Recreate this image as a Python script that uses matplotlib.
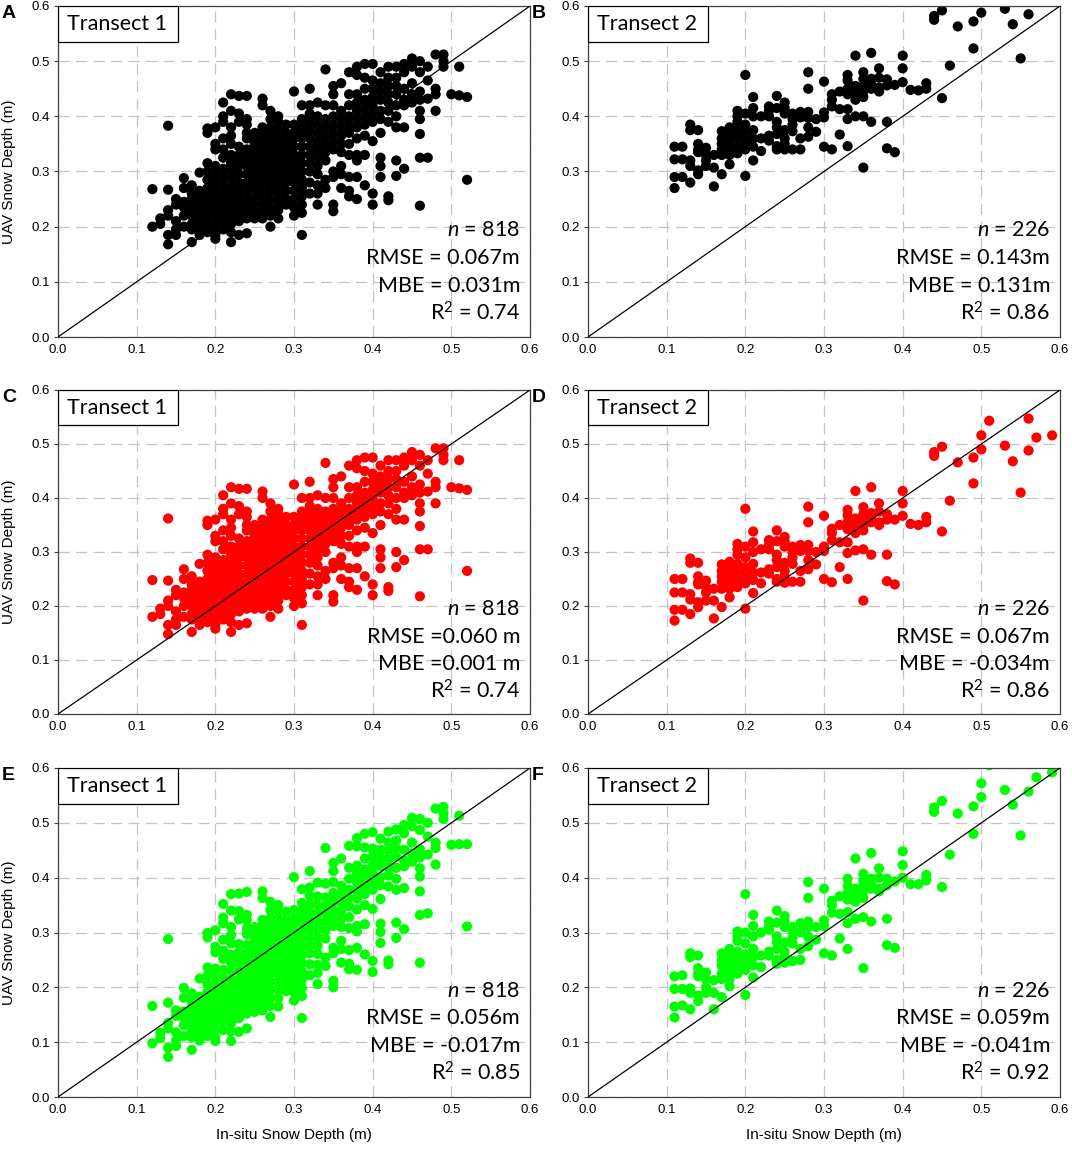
import matplotlib.pyplot as plt
from matplotlib.patches import Rectangle

plt.rcParams['font.family'] = ['Liberation Sans', 'DejaVu Sans']
plt.rcParams['mathtext.fontset'] = 'custom'
plt.rcParams['mathtext.rm'] = 'Lato'
plt.rcParams['mathtext.it'] = 'Lato:italic'

# ---- transect 1: in-situ depth columns and UAV depths (A = black, C = red, E = green)
t1_cols = [0.12, 0.13, 0.14, 0.15, 0.16, 0.17, 0.18, 0.19, 0.20, 0.21, 0.22, 0.23,
           0.24, 0.25, 0.26, 0.27, 0.28, 0.29, 0.30, 0.31, 0.32, 0.33, 0.34, 0.35,
           0.36, 0.37, 0.38, 0.39, 0.40, 0.41, 0.42, 0.43, 0.44, 0.45, 0.46, 0.47,
           0.48, 0.49, 0.50, 0.51, 0.52]

t1_a = [
    [0.268, 0.200],
    [0.215, 0.205],
    [0.383, 0.267, 0.230, 0.220, 0.185, 0.168],
    [0.250, 0.240, 0.210, 0.195, 0.185],
    [0.288, 0.270, 0.245, 0.235, 0.220, 0.200],
    [0.275, 0.260, 0.250, 0.240, 0.230, 0.220, 0.205, 0.195, 0.172],
    [0.298, 0.265, 0.255, 0.245, 0.235, 0.225, 0.215, 0.205, 0.195, 0.185],
    [0.378, 0.370, 0.315, 0.300, 0.285, 0.270, 0.260, 0.250, 0.240, 0.230, 0.220, 0.210, 0.200, 0.190],
    [0.380, 0.350, 0.340, 0.310, 0.295, 0.280, 0.265, 0.255, 0.245, 0.235, 0.225, 0.215, 0.200, 0.185, 0.178],
    [0.425, 0.400, 0.390, 0.360, 0.340, 0.325, 0.305, 0.290, 0.275, 0.260, 0.250, 0.240, 0.230, 0.220, 0.210, 0.195],
    [0.440, 0.410, 0.380, 0.365, 0.350, 0.330, 0.315, 0.300, 0.285, 0.270, 0.260, 0.250, 0.240, 0.230, 0.220, 0.205, 0.190, 0.172],
    [0.437, 0.405, 0.390, 0.345, 0.330, 0.320, 0.310, 0.295, 0.280, 0.270, 0.260, 0.250, 0.240, 0.230, 0.220, 0.210, 0.185],
    [0.437, 0.395, 0.385, 0.370, 0.360, 0.340, 0.325, 0.310, 0.295, 0.280, 0.265, 0.250, 0.235, 0.225, 0.215, 0.188],
    [0.370, 0.360, 0.350, 0.340, 0.330, 0.320, 0.310, 0.300, 0.285, 0.270, 0.255, 0.240, 0.225, 0.215],
    [0.432, 0.420, 0.380, 0.370, 0.360, 0.350, 0.340, 0.330, 0.320, 0.310, 0.300, 0.290, 0.275, 0.260, 0.245, 0.230, 0.215],
    [0.410, 0.395, 0.380, 0.370, 0.360, 0.350, 0.340, 0.330, 0.320, 0.310, 0.300, 0.290, 0.280, 0.265, 0.250, 0.235, 0.220, 0.200],
    [0.400, 0.390, 0.375, 0.360, 0.345, 0.330, 0.320, 0.310, 0.300, 0.290, 0.275, 0.260, 0.245, 0.230, 0.215],
    [0.385, 0.370, 0.360, 0.350, 0.340, 0.325, 0.310, 0.300, 0.290, 0.280, 0.265, 0.250, 0.240],
    [0.445, 0.385, 0.370, 0.360, 0.345, 0.330, 0.320, 0.310, 0.295, 0.280, 0.265, 0.250, 0.235, 0.220],
    [0.420, 0.395, 0.380, 0.370, 0.360, 0.345, 0.330, 0.315, 0.300, 0.285, 0.270, 0.255, 0.240, 0.225, 0.185],
    [0.450, 0.420, 0.405, 0.390, 0.375, 0.360, 0.345, 0.330, 0.315, 0.300, 0.280, 0.260],
    [0.425, 0.400, 0.385, 0.370, 0.355, 0.340, 0.325, 0.310, 0.295, 0.275, 0.260, 0.240],
    [0.485, 0.420, 0.395, 0.380, 0.365, 0.350, 0.335, 0.320, 0.285, 0.270],
    [0.455, 0.440, 0.420, 0.400, 0.385, 0.370, 0.355, 0.340, 0.300, 0.290, 0.240, 0.228],
    [0.460, 0.410, 0.395, 0.380, 0.365, 0.350, 0.335, 0.310, 0.295, 0.270],
    [0.480, 0.440, 0.420, 0.400, 0.385, 0.370, 0.350, 0.330, 0.290, 0.265, 0.255],
    [0.490, 0.475, 0.440, 0.425, 0.410, 0.395, 0.380, 0.360, 0.330, 0.320, 0.290, 0.250],
    [0.495, 0.470, 0.450, 0.430, 0.415, 0.400, 0.385, 0.365, 0.330, 0.275],
    [0.495, 0.465, 0.450, 0.435, 0.420, 0.405, 0.390, 0.355, 0.260, 0.240],
    [0.480, 0.460, 0.445, 0.430, 0.410, 0.395, 0.370, 0.325, 0.310, 0.290],
    [0.490, 0.470, 0.455, 0.440, 0.425, 0.410, 0.390, 0.255, 0.248],
    [0.490, 0.470, 0.455, 0.440, 0.420, 0.400, 0.380, 0.320, 0.292],
    [0.495, 0.480, 0.450, 0.430, 0.420, 0.380, 0.305],
    [0.505, 0.490, 0.460, 0.440, 0.425],
    [0.500, 0.480, 0.445, 0.430, 0.410, 0.395, 0.368, 0.325, 0.238],
    [0.490, 0.465, 0.432, 0.325],
    [0.512, 0.450, 0.440, 0.410],
    [0.512, 0.500, 0.490],
    [0.440],
    [0.490, 0.438],
    [0.435, 0.285],
]

t1_c = [
    [0.248, 0.180],
    [0.195, 0.185],
    [0.362, 0.247, 0.210, 0.200, 0.165, 0.148],
    [0.230, 0.220, 0.190, 0.175, 0.165],
    [0.268, 0.250, 0.225, 0.215, 0.200, 0.180],
    [0.255, 0.240, 0.230, 0.220, 0.210, 0.200, 0.185, 0.175, 0.152],
    [0.278, 0.245, 0.235, 0.225, 0.215, 0.205, 0.195, 0.185, 0.175, 0.165],
    [0.358, 0.350, 0.295, 0.280, 0.265, 0.250, 0.240, 0.230, 0.220, 0.210, 0.200, 0.190, 0.180, 0.170],
    [0.360, 0.330, 0.320, 0.290, 0.275, 0.260, 0.245, 0.235, 0.225, 0.215, 0.205, 0.195, 0.180, 0.165, 0.158],
    [0.405, 0.380, 0.370, 0.340, 0.320, 0.305, 0.285, 0.270, 0.255, 0.240, 0.230, 0.220, 0.210, 0.200, 0.190, 0.175],
    [0.420, 0.390, 0.360, 0.345, 0.330, 0.310, 0.295, 0.280, 0.265, 0.250, 0.240, 0.230, 0.220, 0.210, 0.200, 0.185, 0.170, 0.152],
    [0.417, 0.385, 0.370, 0.325, 0.310, 0.300, 0.290, 0.275, 0.260, 0.250, 0.240, 0.230, 0.220, 0.210, 0.200, 0.190, 0.165],
    [0.417, 0.375, 0.365, 0.350, 0.340, 0.320, 0.305, 0.290, 0.275, 0.260, 0.245, 0.230, 0.215, 0.205, 0.195, 0.168],
    [0.350, 0.340, 0.330, 0.320, 0.310, 0.300, 0.290, 0.280, 0.265, 0.250, 0.235, 0.220, 0.205, 0.195],
    [0.412, 0.400, 0.360, 0.350, 0.340, 0.330, 0.320, 0.310, 0.300, 0.290, 0.280, 0.270, 0.255, 0.240, 0.225, 0.210, 0.195],
    [0.390, 0.375, 0.360, 0.350, 0.340, 0.330, 0.320, 0.310, 0.300, 0.290, 0.280, 0.270, 0.260, 0.245, 0.230, 0.215, 0.200, 0.180],
    [0.380, 0.370, 0.355, 0.340, 0.325, 0.310, 0.300, 0.290, 0.280, 0.270, 0.255, 0.240, 0.225, 0.210, 0.195],
    [0.365, 0.350, 0.340, 0.330, 0.320, 0.305, 0.290, 0.280, 0.270, 0.260, 0.245, 0.230, 0.220],
    [0.425, 0.365, 0.350, 0.340, 0.325, 0.310, 0.300, 0.290, 0.275, 0.260, 0.245, 0.230, 0.215, 0.200],
    [0.400, 0.375, 0.360, 0.350, 0.340, 0.325, 0.310, 0.295, 0.280, 0.265, 0.250, 0.235, 0.220, 0.205, 0.165],
    [0.430, 0.400, 0.385, 0.370, 0.355, 0.340, 0.325, 0.310, 0.295, 0.280, 0.260, 0.240],
    [0.405, 0.380, 0.365, 0.350, 0.335, 0.320, 0.305, 0.290, 0.275, 0.255, 0.240, 0.220],
    [0.465, 0.400, 0.375, 0.360, 0.345, 0.330, 0.315, 0.300, 0.265, 0.250],
    [0.435, 0.420, 0.400, 0.380, 0.365, 0.350, 0.335, 0.320, 0.280, 0.270, 0.220, 0.208],
    [0.440, 0.390, 0.375, 0.360, 0.345, 0.330, 0.315, 0.290, 0.275, 0.250],
    [0.460, 0.420, 0.400, 0.380, 0.365, 0.350, 0.330, 0.310, 0.270, 0.245, 0.235],
    [0.470, 0.455, 0.420, 0.405, 0.390, 0.375, 0.360, 0.340, 0.310, 0.300, 0.270, 0.230],
    [0.475, 0.450, 0.430, 0.410, 0.395, 0.380, 0.365, 0.345, 0.310, 0.255],
    [0.475, 0.445, 0.430, 0.415, 0.400, 0.385, 0.370, 0.335, 0.240, 0.220],
    [0.460, 0.440, 0.425, 0.410, 0.390, 0.375, 0.350, 0.305, 0.290, 0.270],
    [0.470, 0.450, 0.435, 0.420, 0.405, 0.390, 0.370, 0.235, 0.228],
    [0.470, 0.450, 0.435, 0.420, 0.400, 0.380, 0.360, 0.300, 0.272],
    [0.475, 0.460, 0.430, 0.410, 0.400, 0.360, 0.285],
    [0.485, 0.470, 0.440, 0.420, 0.405],
    [0.480, 0.460, 0.425, 0.410, 0.390, 0.375, 0.348, 0.305, 0.218],
    [0.470, 0.445, 0.412, 0.305],
    [0.492, 0.430, 0.420, 0.390],
    [0.492, 0.480, 0.470],
    [0.420],
    [0.470, 0.418],
    [0.415, 0.265],
]

t1_e = [
    [0.166, 0.098],
    [0.117, 0.107],
    [0.288, 0.172, 0.135, 0.125, 0.090, 0.073],
    [0.158, 0.148, 0.118, 0.103, 0.093],
    [0.199, 0.181, 0.156, 0.146, 0.131, 0.111],
    [0.189, 0.174, 0.164, 0.154, 0.144, 0.134, 0.119, 0.109, 0.086],
    [0.216, 0.183, 0.173, 0.163, 0.153, 0.143, 0.133, 0.123, 0.113, 0.103],
    [0.299, 0.291, 0.236, 0.221, 0.206, 0.191, 0.181, 0.171, 0.161, 0.151, 0.141, 0.131, 0.121, 0.111],
    [0.304, 0.274, 0.264, 0.234, 0.219, 0.204, 0.189, 0.179, 0.169, 0.159, 0.149, 0.139, 0.124, 0.109, 0.102],
    [0.352, 0.327, 0.317, 0.287, 0.267, 0.252, 0.232, 0.217, 0.202, 0.187, 0.177, 0.167, 0.157, 0.147, 0.137, 0.122],
    [0.370, 0.340, 0.310, 0.295, 0.280, 0.260, 0.245, 0.230, 0.215, 0.200, 0.190, 0.180, 0.170, 0.160, 0.150, 0.135, 0.120, 0.102],
    [0.371, 0.339, 0.324, 0.279, 0.264, 0.254, 0.244, 0.229, 0.214, 0.204, 0.194, 0.184, 0.174, 0.164, 0.154, 0.144, 0.119],
    [0.374, 0.332, 0.322, 0.307, 0.297, 0.277, 0.262, 0.247, 0.232, 0.217, 0.202, 0.187, 0.172, 0.162, 0.152, 0.125],
    [0.310, 0.300, 0.290, 0.280, 0.270, 0.260, 0.250, 0.240, 0.225, 0.210, 0.195, 0.180, 0.165, 0.155],
    [0.375, 0.363, 0.323, 0.313, 0.303, 0.293, 0.283, 0.273, 0.263, 0.253, 0.243, 0.233, 0.218, 0.203, 0.188, 0.173, 0.158],
    [0.356, 0.341, 0.326, 0.316, 0.306, 0.296, 0.286, 0.276, 0.266, 0.256, 0.246, 0.236, 0.226, 0.211, 0.196, 0.181, 0.166, 0.146],
    [0.350, 0.340, 0.325, 0.310, 0.295, 0.280, 0.270, 0.260, 0.250, 0.240, 0.225, 0.210, 0.195, 0.180, 0.165],
    [0.338, 0.323, 0.313, 0.303, 0.293, 0.278, 0.263, 0.253, 0.243, 0.233, 0.218, 0.203, 0.193],
    [0.401, 0.341, 0.326, 0.316, 0.301, 0.286, 0.276, 0.266, 0.251, 0.236, 0.221, 0.206, 0.191, 0.176],
    [0.379, 0.354, 0.339, 0.329, 0.319, 0.304, 0.289, 0.274, 0.259, 0.244, 0.229, 0.214, 0.199, 0.184, 0.144],
    [0.412, 0.382, 0.367, 0.352, 0.337, 0.322, 0.307, 0.292, 0.277, 0.262, 0.242, 0.222],
    [0.391, 0.366, 0.351, 0.336, 0.321, 0.306, 0.291, 0.276, 0.261, 0.241, 0.226, 0.206],
    [0.454, 0.389, 0.364, 0.349, 0.334, 0.319, 0.304, 0.289, 0.254, 0.239],
    [0.427, 0.412, 0.392, 0.372, 0.357, 0.342, 0.327, 0.312, 0.272, 0.262, 0.212, 0.200],
    [0.435, 0.385, 0.370, 0.355, 0.340, 0.325, 0.310, 0.285, 0.270, 0.245],
    [0.458, 0.418, 0.398, 0.378, 0.363, 0.348, 0.328, 0.308, 0.268, 0.243, 0.233],
    [0.472, 0.457, 0.422, 0.407, 0.392, 0.377, 0.362, 0.342, 0.312, 0.302, 0.272, 0.232],
    [0.480, 0.455, 0.435, 0.415, 0.400, 0.385, 0.370, 0.350, 0.315, 0.260],
    [0.483, 0.453, 0.438, 0.423, 0.408, 0.393, 0.378, 0.343, 0.248, 0.228],
    [0.471, 0.451, 0.436, 0.421, 0.401, 0.386, 0.361, 0.316, 0.301, 0.281],
    [0.484, 0.464, 0.449, 0.434, 0.419, 0.404, 0.384, 0.249, 0.242],
    [0.488, 0.468, 0.453, 0.438, 0.418, 0.398, 0.378, 0.318, 0.290],
    [0.496, 0.481, 0.451, 0.431, 0.421, 0.381, 0.306],
    [0.509, 0.494, 0.464, 0.444, 0.429],
    [0.507, 0.487, 0.452, 0.437, 0.417, 0.402, 0.375, 0.332, 0.245],
    [0.500, 0.475, 0.442, 0.335],
    [0.526, 0.464, 0.454, 0.424],
    [0.529, 0.517, 0.507],
    [0.460],
    [0.513, 0.461],
    [0.461, 0.311],
]

# ---- transect 2 (B = black, D = red, F = green)
t2_cols = [0.11, 0.12, 0.13, 0.14, 0.15, 0.16, 0.17, 0.18, 0.19, 0.20, 0.21, 0.22,
           0.23, 0.24, 0.25, 0.26, 0.27, 0.28, 0.29, 0.30, 0.31, 0.32, 0.33, 0.34,
           0.35, 0.36, 0.37, 0.38, 0.39, 0.40, 0.41, 0.42, 0.43, 0.44, 0.45, 0.46,
           0.47, 0.49, 0.50, 0.51, 0.53, 0.54, 0.55, 0.56, 0.57, 0.59]

t2_b = [
    [0.345, 0.322, 0.290, 0.270],
    [0.345, 0.322, 0.290],
    [0.385, 0.375, 0.320, 0.310, 0.280],
    [0.375, 0.350, 0.340, 0.335, 0.302, 0.295],
    [0.343, 0.330, 0.320, 0.310],
    [0.330, 0.307, 0.273],
    [0.373, 0.360, 0.350, 0.340, 0.330, 0.295],
    [0.380, 0.370, 0.356, 0.345, 0.335, 0.330, 0.313],
    [0.410, 0.400, 0.390, 0.375, 0.360, 0.345, 0.333],
    [0.475, 0.405, 0.385, 0.370, 0.360, 0.350, 0.340, 0.292],
    [0.435, 0.415, 0.400, 0.375, 0.360, 0.345, 0.320],
    [0.400, 0.360, 0.337],
    [0.418, 0.410, 0.400, 0.365, 0.356],
    [0.437, 0.415, 0.390, 0.380, 0.368, 0.346, 0.340],
    [0.425, 0.415, 0.405, 0.375, 0.360, 0.350, 0.340],
    [0.405, 0.395, 0.385, 0.373, 0.340],
    [0.408, 0.398, 0.360, 0.340],
    [0.480, 0.450, 0.408, 0.397, 0.380, 0.363],
    [0.395, 0.372],
    [0.463, 0.407, 0.398, 0.345],
    [0.440, 0.430, 0.418, 0.340],
    [0.445, 0.413, 0.367],
    [0.475, 0.465, 0.450, 0.440, 0.413, 0.395, 0.346],
    [0.510, 0.455, 0.445, 0.430, 0.400],
    [0.480, 0.468, 0.455, 0.445, 0.435, 0.400, 0.307],
    [0.515, 0.468, 0.458, 0.450, 0.390],
    [0.487, 0.470, 0.452, 0.445],
    [0.467, 0.456, 0.390, 0.342],
    [0.457, 0.335],
    [0.510, 0.487, 0.462],
    [0.448],
    [0.447],
    [0.460, 0.450],
    [0.582, 0.575],
    [0.592, 0.433],
    [0.492],
    [0.563],
    [0.572, 0.523],
    [0.613, 0.588],
    [0.640],
    [0.595],
    [0.567],
    [0.505],
    [0.645, 0.585],
    [0.610],
    [0.615],
]

t2_d = [
    [0.250, 0.225, 0.193, 0.173],
    [0.250, 0.225, 0.193],
    [0.288, 0.280, 0.222, 0.212, 0.185],
    [0.280, 0.255, 0.245, 0.240, 0.207, 0.198],
    [0.247, 0.235, 0.225, 0.210],
    [0.232, 0.210, 0.177],
    [0.277, 0.265, 0.255, 0.245, 0.232, 0.198],
    [0.282, 0.270, 0.260, 0.250, 0.240, 0.232, 0.216],
    [0.315, 0.305, 0.295, 0.278, 0.262, 0.248, 0.235],
    [0.380, 0.310, 0.290, 0.272, 0.262, 0.250, 0.242, 0.195],
    [0.338, 0.318, 0.300, 0.278, 0.262, 0.248, 0.224],
    [0.305, 0.262, 0.242],
    [0.322, 0.313, 0.305, 0.268, 0.260],
    [0.340, 0.320, 0.295, 0.285, 0.272, 0.250, 0.245],
    [0.328, 0.320, 0.310, 0.280, 0.265, 0.255, 0.243],
    [0.310, 0.300, 0.290, 0.278, 0.245],
    [0.313, 0.302, 0.265, 0.245],
    [0.384, 0.355, 0.313, 0.302, 0.285, 0.268],
    [0.300, 0.277],
    [0.367, 0.310, 0.302, 0.250],
    [0.343, 0.335, 0.322, 0.244],
    [0.350, 0.318, 0.272],
    [0.378, 0.368, 0.355, 0.342, 0.318, 0.298, 0.250],
    [0.413, 0.362, 0.350, 0.335, 0.303],
    [0.383, 0.370, 0.360, 0.350, 0.340, 0.305, 0.210],
    [0.420, 0.372, 0.363, 0.355, 0.295],
    [0.390, 0.375, 0.355, 0.350],
    [0.370, 0.360, 0.295, 0.246],
    [0.360, 0.240],
    [0.413, 0.390, 0.367],
    [0.352],
    [0.350],
    [0.365, 0.355],
    [0.485, 0.478],
    [0.495, 0.338],
    [0.395],
    [0.466],
    [0.475, 0.427],
    [0.516, 0.490],
    [0.543],
    [0.497],
    [0.468],
    [0.410],
    [0.547, 0.488],
    [0.512],
    [0.516],
]

t2_f = [
    [0.220, 0.197, 0.165, 0.145],
    [0.222, 0.197, 0.167],
    [0.262, 0.255, 0.198, 0.190, 0.160],
    [0.258, 0.235, 0.225, 0.220, 0.185, 0.175],
    [0.227, 0.215, 0.200, 0.190],
    [0.213, 0.190, 0.160],
    [0.262, 0.250, 0.240, 0.225, 0.215, 0.182],
    [0.270, 0.255, 0.245, 0.235, 0.225, 0.215, 0.202],
    [0.302, 0.293, 0.285, 0.265, 0.250, 0.236, 0.225],
    [0.370, 0.300, 0.280, 0.260, 0.250, 0.240, 0.232, 0.186],
    [0.332, 0.312, 0.293, 0.270, 0.255, 0.240, 0.218],
    [0.300, 0.258, 0.237],
    [0.320, 0.310, 0.305, 0.265, 0.258],
    [0.340, 0.318, 0.293, 0.283, 0.270, 0.250, 0.243],
    [0.330, 0.320, 0.310, 0.282, 0.265, 0.255, 0.245],
    [0.310, 0.302, 0.290, 0.280, 0.248],
    [0.317, 0.300, 0.270, 0.250],
    [0.392, 0.363, 0.320, 0.310, 0.292, 0.275],
    [0.310, 0.287],
    [0.380, 0.322, 0.312, 0.262],
    [0.358, 0.350, 0.336, 0.258],
    [0.366, 0.334, 0.289],
    [0.398, 0.385, 0.372, 0.360, 0.337, 0.317, 0.270],
    [0.435, 0.380, 0.370, 0.356, 0.325],
    [0.407, 0.395, 0.385, 0.375, 0.363, 0.328, 0.235],
    [0.445, 0.398, 0.388, 0.380, 0.320],
    [0.417, 0.400, 0.380, 0.375],
    [0.398, 0.386, 0.325, 0.277],
    [0.393, 0.272],
    [0.448, 0.423, 0.400],
    [0.388],
    [0.388],
    [0.405, 0.395],
    [0.528, 0.520],
    [0.540, 0.383],
    [0.442],
    [0.517],
    [0.530, 0.480],
    [0.572, 0.547],
    [0.605],
    [0.560],
    [0.533],
    [0.477],
    [0.610, 0.557],
    [0.583],
    [0.592],
]

panel_letters = ['A', 'B', 'C', 'D', 'E', 'F']
transects = ['Transect 1', 'Transect 2']
stats = [
    [r'$n$ = 818', 'RMSE = 0.067m', 'MBE = 0.031m', r'R$^2$ = 0.74'],
    [r'$n$ = 226', 'RMSE = 0.143m', 'MBE = 0.131m', r'R$^2$ = 0.86'],
    [r'$n$ = 818', 'RMSE =0.060 m', 'MBE =0.001 m', r'R$^2$ = 0.74'],
    [r'$n$ = 226', 'RMSE = 0.067m', 'MBE = -0.034m', r'R$^2$ = 0.86'],
    [r'$n$ = 818', 'RMSE = 0.056m', 'MBE = -0.017m', r'R$^2$ = 0.85'],
    [r'$n$ = 226', 'RMSE = 0.059m', 'MBE = -0.041m', r'R$^2$ = 0.92'],
]
colors = ['#000000', '#000000', '#ff0000', '#ff0000', '#00ff00', '#00ff00']
series = [(t1_cols, t1_a), (t2_cols, t2_b), (t1_cols, t1_c),
          (t2_cols, t2_d), (t1_cols, t1_e), (t2_cols, t2_f)]
ticks = [0.0, 0.1, 0.2, 0.3, 0.4, 0.5, 0.6]


def flatten(cols, ys):
    xs, vals = [], []
    for x, col in zip(cols, ys):
        xs += [x] * len(col)
        vals += col
    return xs, vals


W, H = 1072, 1154
fig = plt.figure(figsize=(W / 100, H / 100), dpi=100)

lefts = [58, 588]
rows = [(6, 337), (390, 714), (768, 1097)]

for i in range(6):
    r, c = divmod(i, 2)
    top, bot = rows[r]
    ax = fig.add_axes([lefts[c] / W, 1 - bot / H, 472 / W, (bot - top) / H])
    ax.set_xlim(0, 0.6)
    ax.set_ylim(0, 0.6)
    ax.set_xticks(ticks)
    ax.set_yticks(ticks)
    ax.set_xticklabels([f'{t:.1f}' for t in ticks])
    ax.set_yticklabels([f'{t:.1f}' for t in ticks])
    ax.tick_params(axis='x', length=0, labelsize=9.5, pad=5)
    ax.tick_params(axis='y', length=3, width=0.8, color='#404040', labelsize=9.5, pad=3)
    ax.grid(True, color='#c4c4c4', lw=0.9, ls=(0, (9, 5)), zorder=0)
    ax.set_axisbelow(True)
    for s in ax.spines.values():
        s.set_linewidth(0.9)
        s.set_color('#404040')

    xs, ys = flatten(*series[i])
    ax.scatter(xs, ys, s=54, c=colors[i], edgecolors='none', zorder=2)
    ax.plot([0, 0.6], [0, 0.6], color='black', lw=0.9, zorder=3)

    ax.add_patch(Rectangle((0, 1 - 0.109), 0.254, 0.109, transform=ax.transAxes,
                           facecolor='white', edgecolor='black', lw=0.9, zorder=4))
    ax.text(0.126, 1 - 0.0545, transects[c], transform=ax.transAxes, ha='center',
            va='center', fontsize=15.5, family='Lato', zorder=5)

    for k, yy in enumerate([0.323, 0.239, 0.154, 0.072]):
        ax.text(0.979, yy, stats[i][k], transform=ax.transAxes, ha='right', va='center',
                fontsize=15.5, family='Lato', zorder=5)

    ax.text(-0.119, 1.002, panel_letters[i], transform=ax.transAxes, ha='left', va='top',
            fontsize=14, fontweight='bold')

    if c == 0:
        ax.set_ylabel('UAV Snow Depth (m)', fontsize=11)
        ax.yaxis.set_label_coords(-0.088, 0.5)
    if r == 2:
        ax.set_xlabel('In-situ Snow Depth (m)', fontsize=11)
        ax.xaxis.set_label_coords(0.5, -0.095)

fig.savefig('out.png', dpi=100)
